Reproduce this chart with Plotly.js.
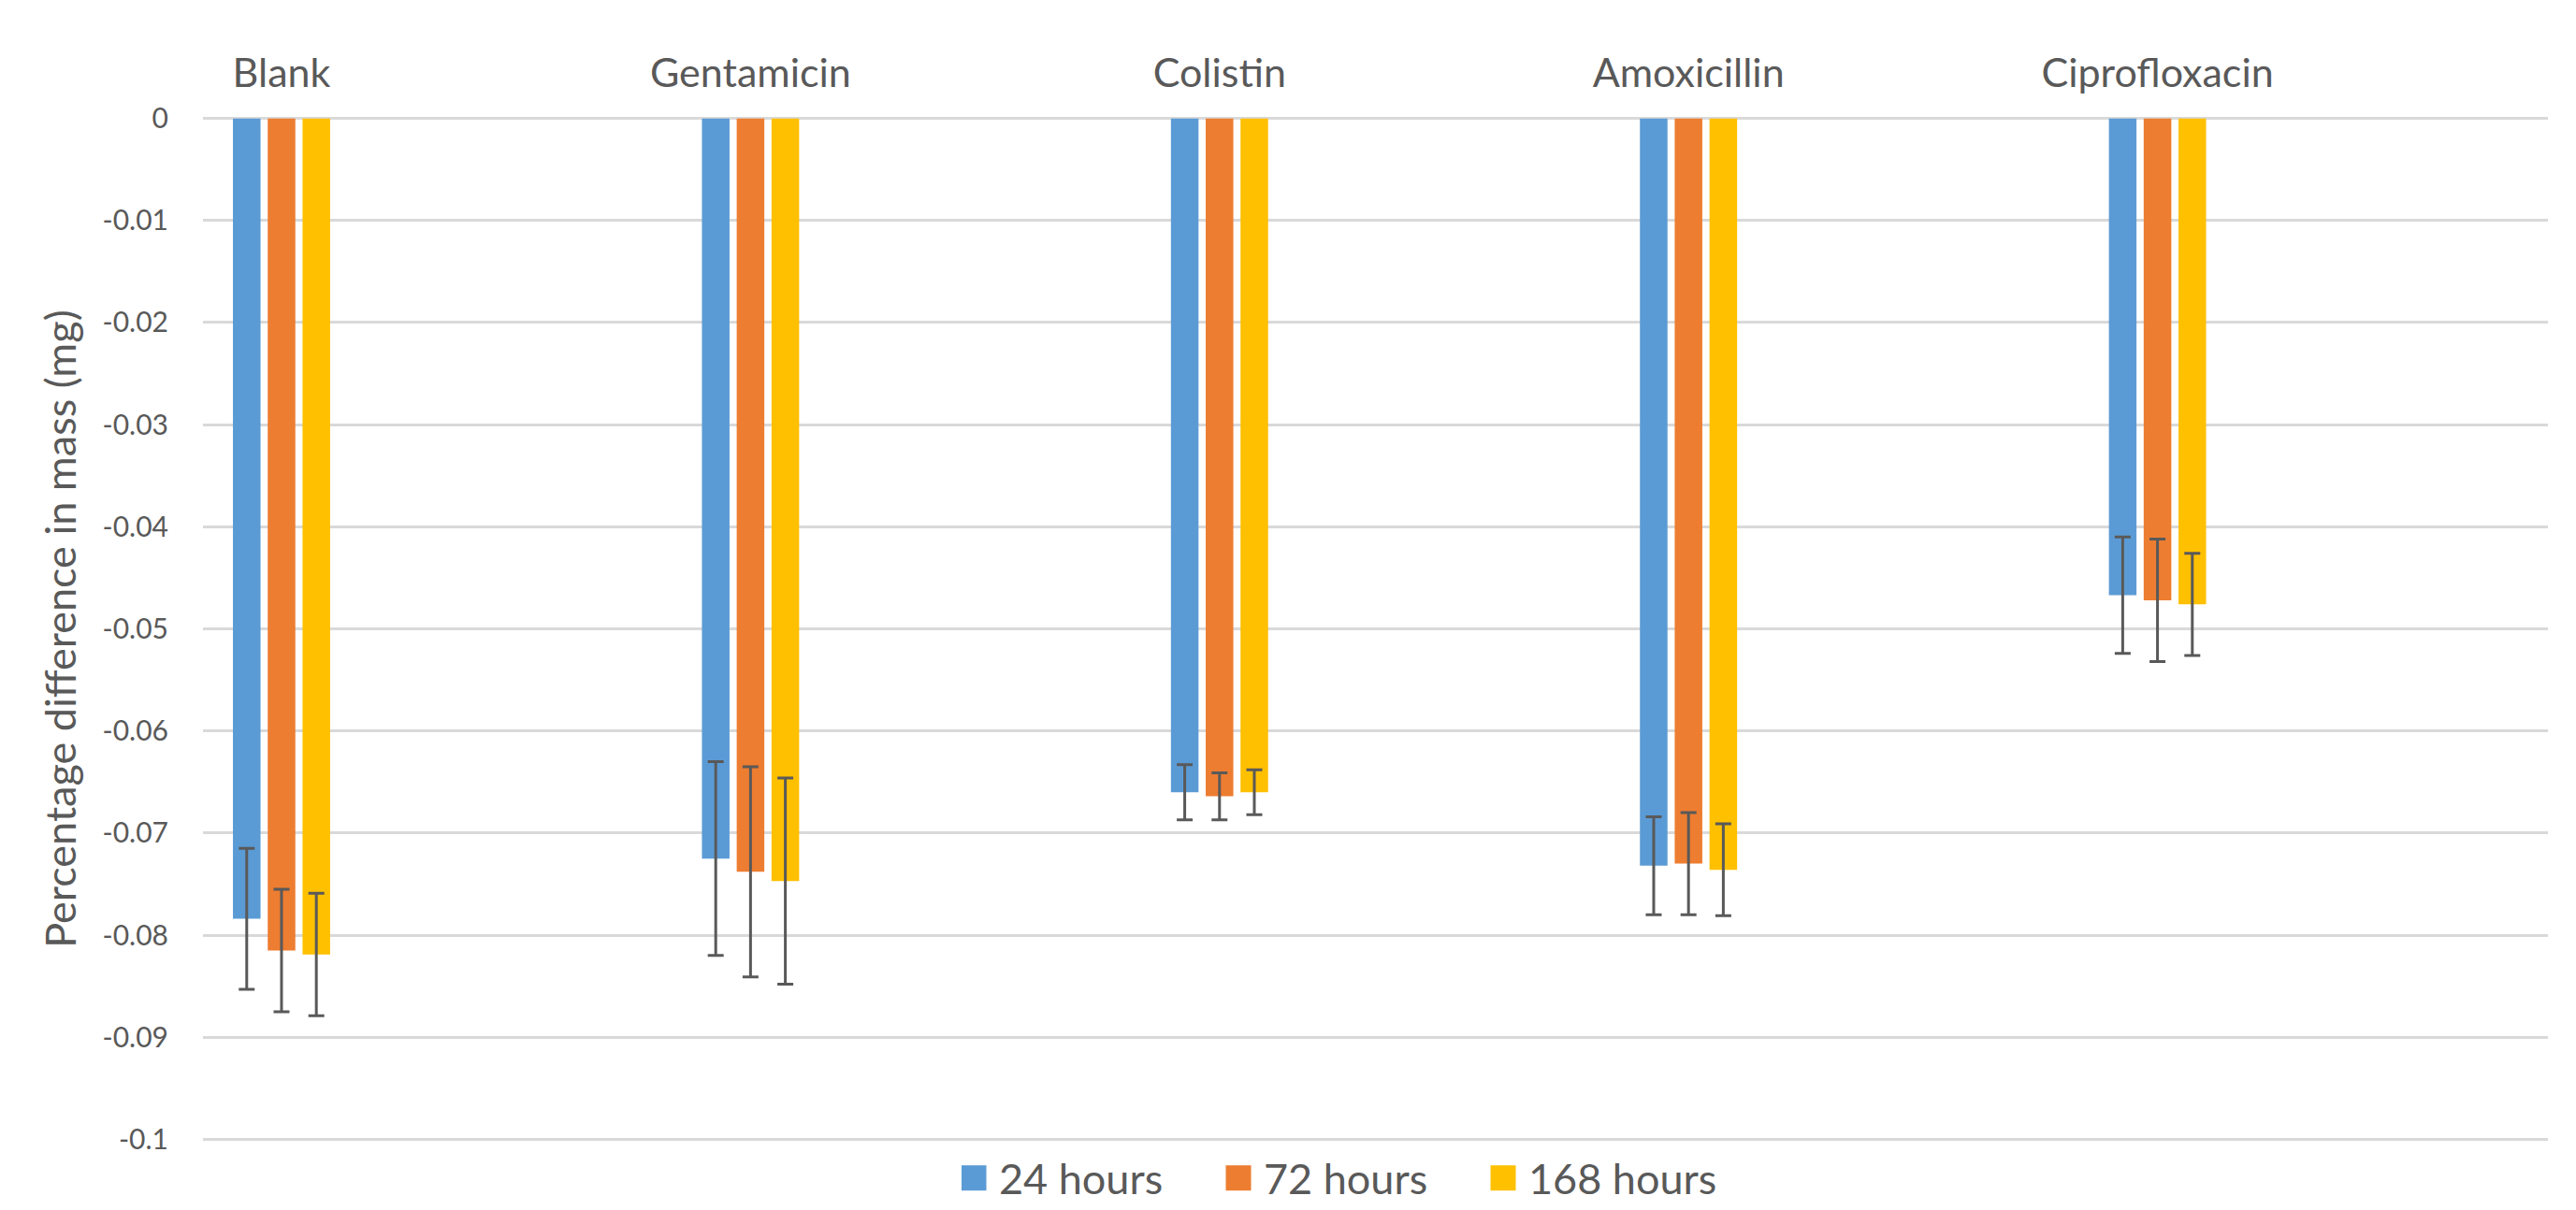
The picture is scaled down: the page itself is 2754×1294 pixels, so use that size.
<!DOCTYPE html>
<html>
<head>
<meta charset="utf-8">
<script src="https://cdn.plot.ly/plotly-3.0.1.min.js"></script>
<style>
  html, body { margin: 0; padding: 0; background: #ffffff; }
  #chart { width: 2754px; height: 1294px; }
</style>
</head>
<body>
<div id="chart"></div>
<script>
const categories = ["Blank", "Gentamicin", "Colistin", "Amoxicillin", "Ciprofloxacin"];
const seriesNames = ["24 hours", "72 hours", "168 hours"];

const values24 = [-0.0784, -0.0725, -0.0660, -0.0732, -0.0467];
const values72 = [-0.0815, -0.0738, -0.0664, -0.0730, -0.0472];
const values168 = [-0.0819, -0.0747, -0.0660, -0.0736, -0.0476];

const errors24 = [0.0069, 0.0095, 0.0027, 0.0048, 0.0057];
const errors72 = [0.0060, 0.0103, 0.0023, 0.0050, 0.0060];
const errors168 = [0.0060, 0.0101, 0.0022, 0.0045, 0.0050];

const yTickVals = [0, -0.01, -0.02, -0.03, -0.04, -0.05, -0.06, -0.07, -0.08, -0.09, -0.1];
const yTickText = ["0", "-0.01", "-0.02", "-0.03", "-0.04", "-0.05", "-0.06", "-0.07", "-0.08", "-0.09", "-0.1"];

const colors = ["#5B9BD5", "#ED7D31", "#FFC000"];
const allValues = [values24, values72, values168];
const allErrors = [errors24, errors72, errors168];

const FONT = "Lato, 'Open Sans', sans-serif";
const TEXT = "#595959";

const traces = seriesNames.map((name, i) => ({
  type: "bar",
  name: name,
  x: categories,
  y: allValues[i],
  marker: { color: colors[i], line: { width: 0 } },
  error_y: {
    type: "data",
    array: allErrors[i],
    symmetric: true,
    visible: true,
    color: "#595959",
    thickness: 3,
    width: 8.5
  }
}));

const layout = {
  width: 2754,
  height: 1294,
  paper_bgcolor: "#ffffff",
  plot_bgcolor: "#ffffff",
  margin: { l: 217, r: 30, t: 125, b: 74, pad: 0, autoexpand: false },
  barmode: "group",
  bargap: 0.7774,
  bargroupgap: 0.207,
  font: { family: FONT, color: TEXT, size: 43 },
  showlegend: true,
  legend: {
    orientation: "h",
    x: 0.3235,
    xanchor: "left",
    y: -0.0365,
    yanchor: "middle",
    font: { family: FONT, size: 45, color: TEXT },
    traceorder: "normal",
    entrywidth: 238,
    entrywidthmode: "pixels",
    bgcolor: "rgba(0,0,0,0)"
  },
  xaxis: {
    type: "category",
    side: "top",
    range: [-0.1675, 4.8325],
    showgrid: false,
    zeroline: false,
    showline: false,
    ticks: "",
    ticklabelstandoff: 22,
    tickfont: { family: FONT, size: 43, color: TEXT },
    fixedrange: true
  },
  yaxis: {
    range: [-0.10015, 0.00015],
    tickmode: "array",
    tickvals: yTickVals,
    ticktext: yTickText,
    showgrid: true,
    gridcolor: "#D9D9D9",
    gridwidth: 3,
    zeroline: false,
    showline: false,
    ticks: "",
    ticklabelstandoff: 36,
    tickfont: { family: FONT, size: 30, color: TEXT },
    automargin: false,
    title: {
      text: "Percentage difference in mass (mg)",
      font: { family: FONT, size: 45, color: TEXT },
      standoff: 13
    },
    fixedrange: true
  }
};

Plotly.newPlot("chart", traces, layout, { displayModeBar: false, staticPlot: true }).then(function (gd) {
  // enlarge the legend colour swatches to match the reference's square keys
  gd.querySelectorAll(".legend .legendpoints path").forEach(function (p) {
    p.setAttribute("d", "M13.5,13.5H-13.5V-13.5H13.5Z");
    p.setAttribute("transform", "translate(13,0)");
  });
});
</script>
</body>
</html>
